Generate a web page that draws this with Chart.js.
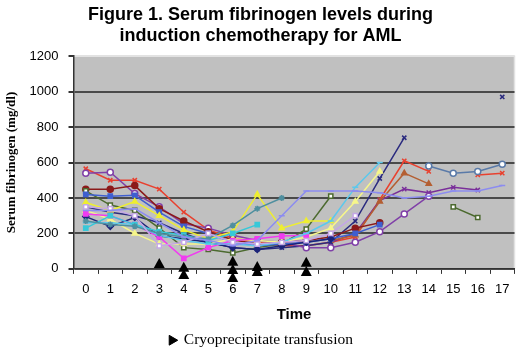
<!DOCTYPE html>
<html>
<head>
<meta charset="utf-8">
<script src="https://cdn.jsdelivr.net/npm/chart.js@4/dist/chart.umd.min.js"></script>
<style>
  body { margin: 0; background: #fff; }
</style>
</head>
<body>
<canvas id="fibChart" width="520" height="347"></canvas>
<script>
// time points (days)
var days = ['0','1','2','3','4','5','6','7','8','9','10','11','12','13','14','15','16','17'];

// serum fibrinogen, mg/dl, one array per patient (null = no sample)
var ptRed        = [565, 500, 500, 450, 320, 220, 175, 150, 130, 130, 150, 180, 390, 610, 550, null, 530, 540];
var ptPurple     = [540, 545, 425, 350, 255, 230, 190, 160, 150, 120, 120, 150, 210, 310, 410, null, null, null];
var ptMaroon     = [450, 450, 470, 340, 270, 210, 165, 140, 150, 160, 180, 230, 260, null, null, null, null, null];
var ptOlive      = [440, 360, 330, 230, 120, 110, 90, 120, 140, 225, 410, null, null, null, null, 350, 290, null];
var ptRoyal      = [420, 410, 415, 320, 240, 200, 150, 130, 140, 150, 170, 200, 250, null, null, null, null, null];
var ptNavy       = [295, 240, 290, 185, 170, 150, 120, 110, 130, 150, 170, null, null, null, null, null, null, null];
var ptYellow     = [375, 330, 380, 300, 220, 170, 210, 420, 230, 270, 270, null, null, null, null, null, null, null];
var ptPaleYellow = [330, 280, 200, 140, 140, 140, 170, 160, 150, 180, 230, 380, 550, null, null, null, null, null];
var ptCyan       = [230, 300, 250, 210, 190, 160, 200, 250, null, null, null, null, null, null, null, null, null, null];
var ptSky        = [260, 260, 250, 190, 160, 140, 140, 130, 150, 200, 270, 460, 600, null, null, null, null, null];
var ptMagenta    = [310, 300, 250, 180, 60, 120, 160, 170, 185, 190, null, null, null, null, null, null, null, null];
var ptLilac      = [350, 340, 300, 130, 150, 200, 150, 140, 150, 160, 200, 300, null, null, null, null, null, null];
var ptTeal       = [270, 250, 240, 200, 180, 170, 245, 340, 400, null, null, null, null, null, null, null, null, null];
var ptPeriwinkle = [330, 330, 340, 260, 180, 160, 130, 160, 300, 440, 440, 440, 430, 400, 410, 440, 440, 470];
var ptNavyX      = [350, 320, 300, 260, 200, 150, 120, 110, 120, 130, 150, 270, 510, 740, null, null, null, 970];
var ptBrown      = [null, null, null, null, null, null, null, null, null, null, 160, 190, 380, 540, 480, null, null, null];
var ptBlueGray   = [null, null, null, null, null, null, null, null, null, null, null, null, null, null, 580, 540, 550, 590];
var ptPlum       = [null, null, null, null, null, null, null, null, null, null, 150, 200, 385, 450, 430, 460, 445, null];

// cryoprecipitate transfusions (marker stacks under the axis)
var cryoDays  = ['3', '4', '4', '6', '6', '6', '7', '7', '9', '9'];
var cryoLevel = [28, 6, -34, 40, -6, -51, 11, -17, 34, -17];

var series = [
    [ptPeriwinkle, '#8c8cf0', 'line', '#8c8cf0'],
    [ptLilac, '#c4a6e6', 'rect', '#ffffff'],
    [ptTeal, '#4f8f9f', 'star', '#4f8f9f'],
    [ptCyan, '#38c8d8', 'rect', '#38c8d8'],
    [ptSky, '#5cc8ec', 'line', '#5cc8ec'],
    [ptMagenta, '#f03cf0', 'rect', '#f03cf0'],
    [ptPaleYellow, '#f6f68a', 'triangle', '#f6f68a'],
    [ptYellow, '#eeee30', 'triangle', '#eeee30'],
    [ptNavy, '#1c2479', 'rectRot', '#1c2479'],
    [ptRoyal, '#3f5fcf', 'rect', '#3f5fcf'],
    [ptOlive, '#4c6a2f', 'rect', '#ffffff'],
    [ptMaroon, '#8b1a1a', 'circle', '#8b1a1a'],
    [ptPurple, '#8040a8', 'circle', '#ffffff'],
    [ptNavyX, '#2b2b7f', 'crossRot', '#2b2b7f'],
    [ptBrown, '#b45f32', 'triangle', '#b45f32'],
    [ptPlum, '#7a2f9a', 'crossRot', '#7a2f9a'],
    [ptBlueGray, '#5a7aa8', 'circle', '#ffffff'],
    [ptRed, '#e8412f', 'crossRot', '#e8412f']
];

var datasets = series.map(function (s, i) {
    return {
        label: 'Patient ' + (i + 1),
        data: s[0],
        borderColor: s[1],
        backgroundColor: s[3],
        pointStyle: s[2],
        pointRadius: 3,
        pointBorderWidth: 1.5,
        borderWidth: 1.5,
        spanGaps: false,
        tension: 0
    };
});

// markers hang below the axis, chart.js would skip them, so they are drawn by cryoMarks
datasets.push({
    label: 'Cryoprecipitate transfusion',
    data: cryoDays.map(function (d, i) { return { x: d, y: cryoLevel[i] }; }),
    showLine: false,
    pointStyle: 'triangle',
    pointRadius: 0,
    borderColor: '#000',
    backgroundColor: '#000'
});

var plotBg = {
    id: 'plotBg',
    beforeDraw: function (chart) {
        var a = chart.chartArea, c = chart.ctx;
        c.save();
        c.fillStyle = '#c0c0c0';
        c.fillRect(a.left, a.top, a.right - a.left, a.bottom - a.top);
        c.strokeStyle = '#e2e2e2';
        c.lineWidth = 1.5;
        c.beginPath();
        c.moveTo(a.left, a.top);
        c.lineTo(a.right, a.top);
        c.lineTo(a.right, a.bottom);
        c.stroke();
        c.restore();
    }
};

var cryoMarks = {
    id: 'cryoMarks',
    afterDatasetsDraw: function (chart) {
        var meta = chart.getDatasetMeta(chart.data.datasets.length - 1);
        var c = chart.ctx;
        c.save();
        c.fillStyle = '#000';
        meta.data.forEach(function (p) {
            c.beginPath();
            c.moveTo(p.x, p.y - 6);
            c.lineTo(p.x + 5.5, p.y + 4);
            c.lineTo(p.x - 5.5, p.y + 4);
            c.closePath();
            c.fill();
        });
        c.restore();
    }
};

var ctx = document.getElementById('fibChart').getContext('2d');
var fibChart = new Chart(ctx, {
    type: 'line',
    data: {
        labels: days,
        datasets: datasets
    },
    plugins: [plotBg, cryoMarks],
    options: {
        responsive: false,
        animation: false,
        layout: {
            padding: { left: 4, right: 3, top: 2, bottom: -11 }
        },
        scales: {
            x: {
                offset: true,
                grid: {
                    offset: true,
                    drawOnChartArea: false,
                    color: '#333',
                    tickLength: 5
                },
                border: { color: '#333' },
                ticks: {
                    color: '#000',
                    padding: 8,
                    font: { family: 'Liberation Sans', size: 13 }
                },
                title: {
                    display: true,
                    text: 'Time',
                    color: '#000',
                    padding: { top: 0, bottom: 4 },
                    font: { family: 'Liberation Sans', size: 15, weight: 'bold' }
                }
            },
            y: {
                min: 0,
                max: 1200,
                ticks: {
                    stepSize: 200,
                    color: '#000',
                    padding: 10,
                    font: { family: 'Liberation Sans', size: 13 },
                    callback: function (v) { return String(v); }
                },
                grid: {
                    color: function (c) { return c.tick && c.tick.value === 1200 ? '#e2e2e2' : '#4a4a4a'; },
                    lineWidth: 2,
                    tickColor: '#333',
                    tickLength: 5
                },
                border: { color: '#333', width: 1.5 },
                title: {
                    display: true,
                    text: 'Serum fibrinogen (mg/dl)',
                    color: '#000',
                    padding: { top: 0, bottom: 0 },
                    font: { family: 'Liberation Serif', size: 13, weight: 'bold' }
                }
            }
        },
        plugins: {
            title: {
                display: true,
                text: ['Figure 1. Serum fibrinogen levels during', 'induction chemotherapy for AML'],
                color: '#000',
                padding: { top: 2, bottom: 9 },
                font: { family: 'Liberation Sans', size: 18, weight: 'bold', lineHeight: 1.2 }
            },
            legend: {
                display: true,
                position: 'bottom',
                labels: {
                    usePointStyle: true,
                    boxWidth: 8,
                    boxHeight: 8,
                    color: '#000',
                    padding: 5,
                    font: { family: 'Liberation Serif', size: 15.5 },
                    generateLabels: function (chart) {
                        var items = Chart.defaults.plugins.legend.labels.generateLabels(chart);
                        return items.filter(function (it) {
                            return it.text === 'Cryoprecipitate transfusion';
                        }).map(function (it) {
                            it.rotation = 90;
                            return it;
                        });
                    }
                }
            },
            tooltip: { enabled: false }
        }
    }
});
</script>
</body>
</html>
